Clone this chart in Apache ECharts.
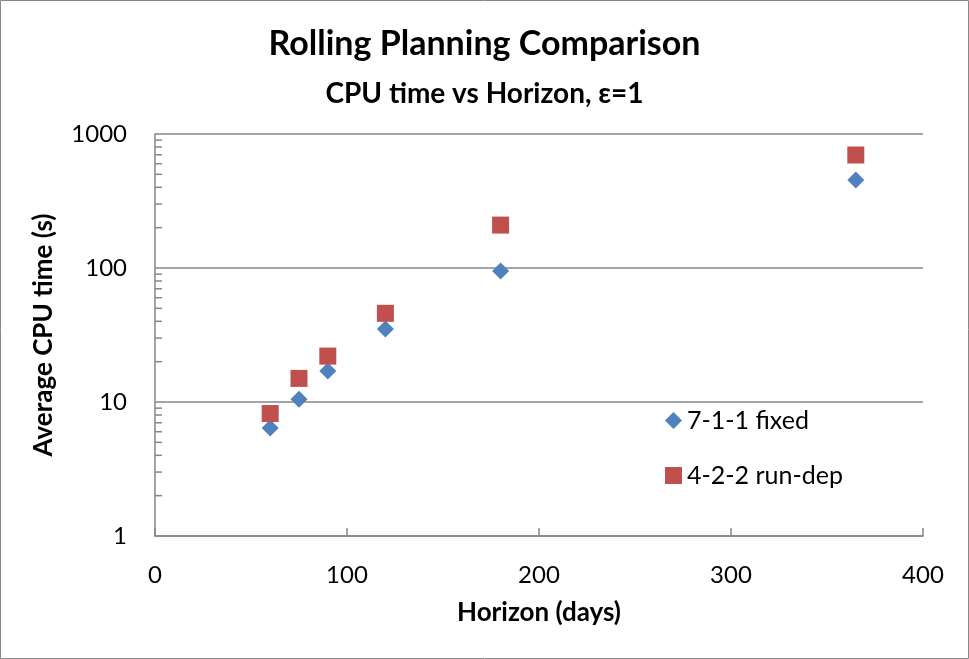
<!DOCTYPE html>
<html><head><meta charset="utf-8">
<script src="https://cdn.jsdelivr.net/npm/echarts@6/dist/echarts.min.js"></script>
<style>html,body{margin:0;padding:0;background:#fff}#c{width:969px;height:659px}</style>
</head><body><div id="c"></div>
<script>
const horizons = [60, 75, 90, 120, 180, 365];
const fixed711 = [6.4, 10.5, 17.0, 35, 95, 454];
const runDep422 = [8.2, 15.0, 22.0, 45.9, 209, 697];
const xTicks = [0, 100, 200, 300, 400];
const yTicks = [1, 10, 100, 1000];
const minorTickValues = [2,3,4,5,6,7,8,9,20,30,40,50,60,70,80,90,200,300,400,500,600,700,800,900];

const FONT = 'Lato';
const chart = echarts.init(document.getElementById('c'));
chart.setOption({
  animation: false,
  textStyle: {fontFamily: FONT},
  title: [
    {text: 'Rolling Planning Comparison', left: 'center', top: 22,
     textStyle: {fontSize: 34, fontWeight: 'bold', color: '#000', fontFamily: FONT}},
    {text: 'CPU time vs Horizon, ε=1', left: 'center', top: 75,
     textStyle: {fontSize: 28, fontWeight: 'bold', color: '#000', fontFamily: FONT}}
  ],
  graphic: [{type: 'rect', shape: {x: 0.5, y: 0.5, width: 968, height: 658},
    style: {fill: 'none', stroke: '#888', lineWidth: 1}, silent: true}],
  legend: {
    orient: 'vertical', left: 660, top: 403, itemWidth: 17, itemHeight: 17, itemGap: 30,
    data: ['7-1-1 fixed', '4-2-2 run-dep'],
    textStyle: {fontSize: 25, color: '#000', fontFamily: FONT}
  },
  grid: {left: 155, right: 46, top: 134, bottom: 123, containLabel: false},
  xAxis: {
    type: 'value', min: xTicks[0], max: xTicks[xTicks.length-1], interval: 100,
    name: 'Horizon (days)', nameLocation: 'middle', nameGap: 64,
    nameTextStyle: {fontSize: 26, fontWeight: 'bold', color: '#000', fontFamily: FONT},
    axisLine: {show: true, lineStyle: {color: '#868686', width: 1.5}},
    axisTick: {show: true, inside: true, length: 8, lineStyle: {color: '#868686', width: 1.5}},
    axisLabel: {fontSize: 24, color: '#000', margin: 27, fontFamily: FONT},
    splitLine: {show: false}
  },
  yAxis: {
    type: 'log', logBase: 10, min: yTicks[0], max: yTicks[yTicks.length-1],
    name: 'Average CPU time (s)', nameLocation: 'middle', nameGap: 98,
    nameTextStyle: {fontSize: 26, fontWeight: 'bold', color: '#000', fontFamily: FONT},
    axisLine: {show: true, lineStyle: {color: '#868686', width: 1.5}},
    axisTick: {show: false},
    axisLabel: {fontSize: 24, color: '#000', margin: 28, fontFamily: FONT,
                formatter: v => String(v)},
    splitLine: {show: true, lineStyle: {color: '#868686', width: 1.5}}
  },
  series: [
    {name: '7-1-1 fixed', type: 'scatter', symbol: 'diamond', symbolSize: 17,
     itemStyle: {color: '#4F81BD', opacity: 1}, data: horizons.map((x, i) => [x, fixed711[i]]), z: 3},
    {name: '4-2-2 run-dep', type: 'scatter', symbol: 'rect', symbolSize: 17,
     itemStyle: {color: '#C0504D', opacity: 1}, data: horizons.map((x, i) => [x, runDep422[i]]), z: 3},
    {name: 'minorTicks', type: 'custom', silent: true, z: 2,
     data: minorTickValues.map(v => [xTicks[0], v]),
     renderItem: function (params, api) {
       const p = api.coord([api.value(0), api.value(1)]);
       return {type: 'line', shape: {x1: p[0], y1: p[1], x2: p[0] + 7, y2: p[1]},
               style: {stroke: '#868686', lineWidth: 1.5}};
     }}
  ]
});
</script></body></html>
